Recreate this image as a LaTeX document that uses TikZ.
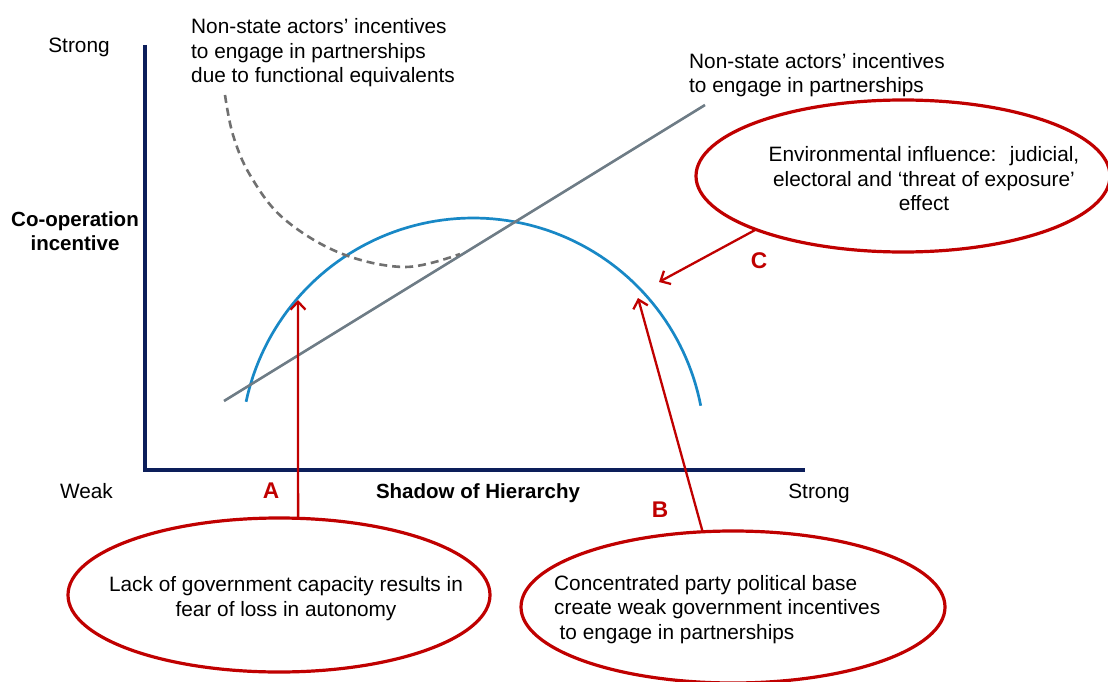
\documentclass[tikz,border=0pt]{standalone}
\usepackage{fontspec}
\setmainfont{Liberation Sans}
\usetikzlibrary{arrows.meta,shapes.geometric}
\definecolor{navy}{RGB}{12,30,90}
\definecolor{arcblue}{RGB}{24,136,198}
\definecolor{linegray}{RGB}{110,124,134}
\definecolor{dashgray}{RGB}{112,112,112}
\definecolor{darkred}{RGB}{192,0,0}
\begin{document}
\begin{tikzpicture}[x=1pt,y=-1pt,
  txt/.style={font=\fontsize{20.8}{24.5}\selectfont, inner sep=0pt},
  btxt/.style={font=\fontsize{20.5}{24.5}\selectfont\bfseries, inner sep=0pt},
  letter/.style={font=\fontsize{22.7}{26}\selectfont\bfseries, text=darkred, inner sep=0pt},
  bubble/.style={ellipse, draw=darkred, line width=3.2pt, inner sep=0pt, outer sep=0pt},
  redarrow/.style={draw=darkred, line width=2.3pt, -{Straight Barb[length=8pt,width=15pt]}},
  axisline/.style={draw=navy, line width=3.2pt},
  bluecurve/.style={draw=arcblue, line width=2.7pt},
  grayline/.style={draw=linegray, line width=2.6pt},
  dashcurve/.style={draw=dashgray, line width=2.6pt, dash pattern=on 8pt off 5pt},
]
\useasboundingbox (0,0) rectangle (1108,682);
\fill[white] (0,0) rectangle (1108,682);

% axes
\coordinate (ytop) at (145,45);
\coordinate (origin) at (145,470);
\coordinate (xend) at (805,470);
\draw[axisline] (ytop) -- (origin) -- (xend);

% curves
\draw[bluecurve] plot[domain=11:168, samples=90] ({473+232*cos(\x)}, {450-232*sin(\x)});
\coordinate (glA) at (224,401);
\coordinate (glB) at (705,105);
\draw[grayline] (glA) -- (glB);
\draw[dashcurve] plot[smooth, tension=0.6] coordinates {(225,95) (233,135) (250,175) (283,218) (340,253) (405,267) (460,254)};

% bubbles
\node[bubble, minimum width=422pt, minimum height=154pt] (ellA) at (279,595) {};
\node[bubble, minimum width=424pt, minimum height=152pt] (ellB) at (733,607) {};
\node[bubble, minimum width=414pt, minimum height=152pt] (ellC) at (903,176) {};

% arrows
\coordinate (tipA) at (298,300);
\coordinate (tipB) at (638,298);
\coordinate (tipC) at (659,282);
\draw[redarrow] (ellA.76) -- (tipA);
\draw[redarrow] (ellB.112.7) -- (tipB);
\draw[redarrow] (ellC.200) -- (tipC);

% texts
\node[txt, anchor=north west, align=left] (topleft) at (191,18.5) {Non-state actors’ incentives\\to engage in partnerships\\due to functional equivalents};
\node[txt, anchor=north west, align=left] (topright) at (689,53) {Non-state actors’ incentives\\to engage in partnerships};
\node[txt, anchor=base] (ystrong) at (79,52.5) {Strong};
\node[btxt, anchor=north, align=center] (ylabel) at (75,211) {Co-operation\\incentive};
\node[txt, anchor=base] (xweak) at (86.5,498) {Weak};
\node[btxt, anchor=base] (xlabel) at (478,498) {Shadow of Hierarchy};
\node[txt, anchor=base] (xstrong) at (819,498) {Strong};
\node[letter, anchor=base] (labA) at (271,498) {A};
\node[letter, anchor=base] (labB) at (660,517) {B};
\node[letter, anchor=base] (labC) at (759,268) {C};
\node[txt, anchor=north, align=center] (textA) at (286,576.5) {Lack of government capacity results in\\fear of loss in autonomy};
\node[txt, anchor=north west, align=left] (textB) at (554,575) {Concentrated party political base\\create weak government incentives\\\hspace*{5.5pt}to engage in partnerships};
\node[txt, anchor=north, align=center] (textC) at (924,146.5) {Environmental influence: \ judicial,\\electoral and ‘threat of exposure’\\effect};
\end{tikzpicture}
\end{document}
